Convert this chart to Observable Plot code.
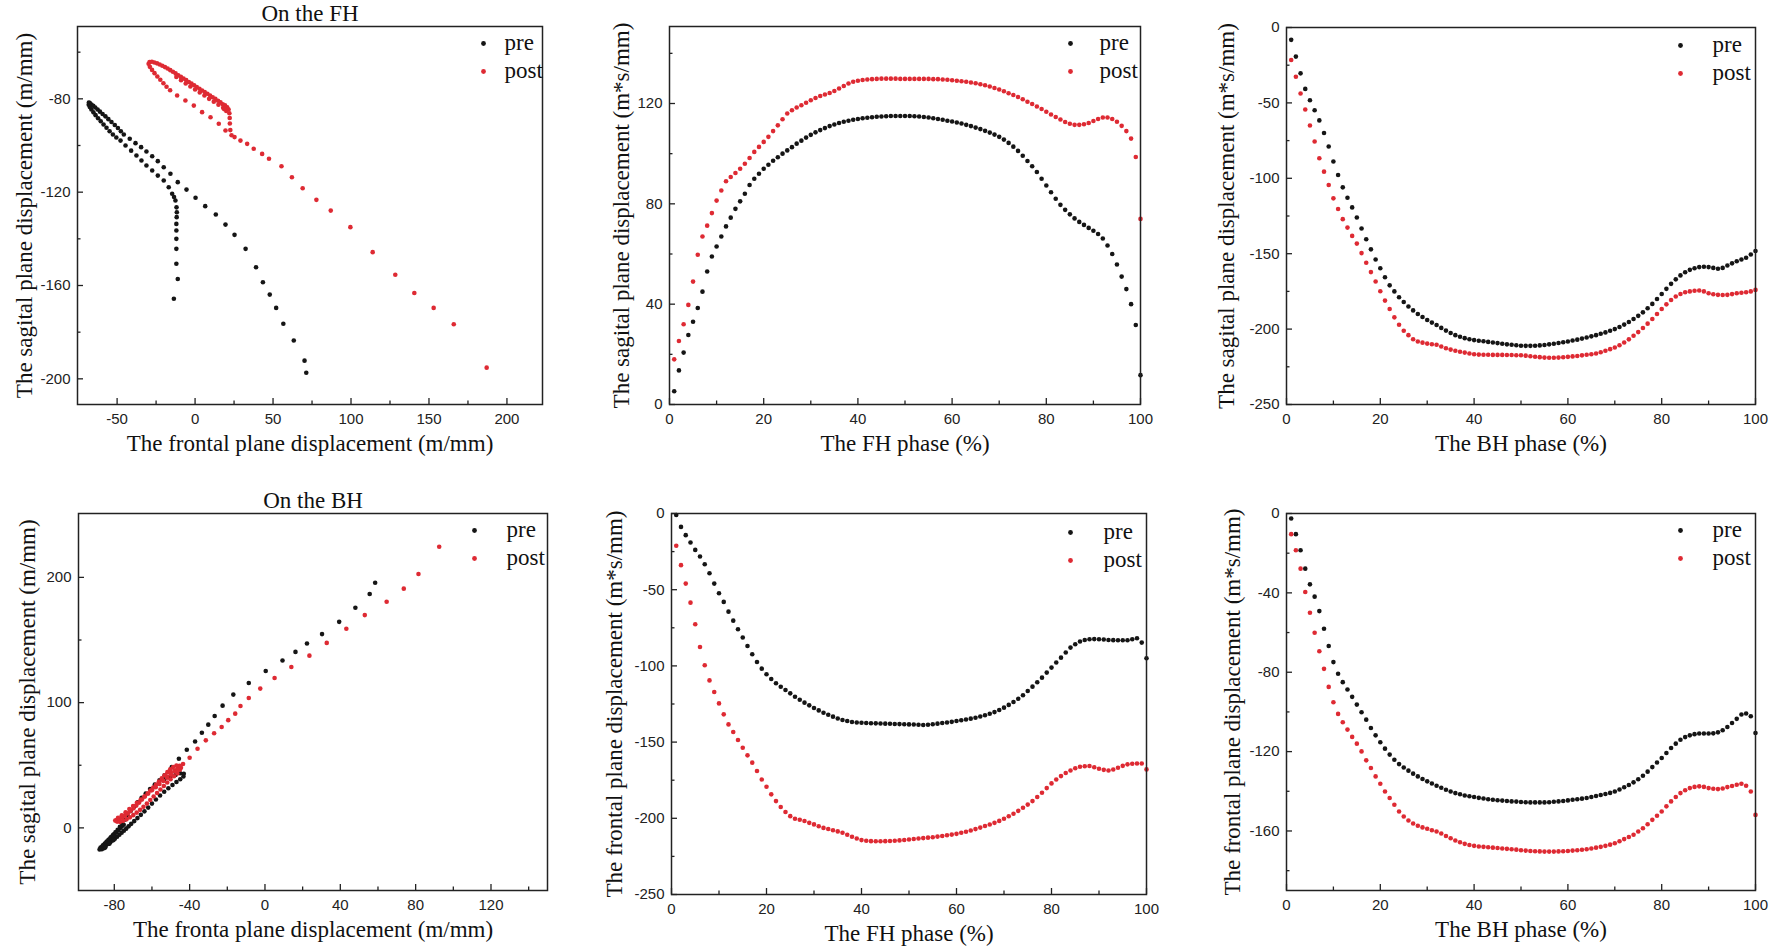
<!DOCTYPE html>
<html>
<head>
<meta charset="utf-8">
<script src="https://cdn.jsdelivr.net/npm/d3@7"></script>
<script src="https://cdn.jsdelivr.net/npm/@observablehq/plot@0.6"></script>
<style>
  body { margin: 0; background: #fff; width: 1772px; height: 952px; position: relative; overflow: hidden; }
  .panel { position: absolute; }
</style>
</head>
<body>
<div id="p1" class="panel"></div>
<div id="p2" class="panel"></div>
<div id="p3" class="panel"></div>
<div id="p4" class="panel"></div>
<div id="p5" class="panel"></div>
<div id="p6" class="panel"></div>
<script>
// phase (%) for the four time-normalised panels
const phase = [1,2,3,4,5,6,7,8,9,10,11,12,13,14,15,16,17,18,19,20,21,22,23,24,25,26,27,28,29,30,
  31,32,33,34,35,36,37,38,39,40,41,42,43,44,45,46,47,48,49,50,51,52,53,54,55,56,57,58,59,60,
  61,62,63,64,65,66,67,68,69,70,71,72,73,74,75,76,77,78,79,80,81,82,83,84,85,86,87,88,89,90,
  91,92,93,94,95,96,97,98,99,100];

// FH phase, sagittal plane
const fhSagPre = [5.3,13.6,20.7,27.7,33,38.5,45,53,59,63,67,71,74.5,78,81,84,87.5,90,92,94,
  95.6,97.2,98.6,100,101.3,102.6,104,105.2,106.4,107.5,108.5,109.4,110.2,111,111.6,112.2,112.7,113.1,113.5,113.8,
  114.1,114.3,114.5,114.7,114.8,114.9,115,115,115,115,115,114.9,114.8,114.6,114.4,114.1,113.8,113.5,113.1,112.8,
  112.4,112,111.5,111,110.4,109.8,109.1,108.4,107.6,106.7,105.6,104.3,102.8,101.1,99.2,97.1,95,92.7,90,87.3,
  84.6,82,79.6,77.6,75.8,74.2,72.8,71.6,70.4,69.3,68,66.2,63.4,60,55.8,51,46,40,31.7,11.7];
const fhSagPost = [18,25.3,32,39.7,49,59.7,67,71.3,76.3,81.3,85.3,89,90.7,92.3,94,96,98.3,100.7,102.7,104.7,
  106.7,109,111.3,113.7,116,117.3,118.4,119.3,120.3,121.3,122.2,123,123.6,124.2,125,126,127,128,128.7,129.1,
  129.4,129.6,129.7,129.8,129.9,129.9,129.9,129.9,129.8,129.8,129.8,129.8,129.8,129.8,129.8,129.7,129.7,129.6,129.5,129.3,
  129.1,128.9,128.7,128.4,128.1,127.7,127.3,126.8,126.2,125.6,124.9,124.1,123.4,122.6,121.7,120.7,119.8,118.8,117.8,116.7,
  115.6,114.6,113.6,112.6,111.9,111.5,111.5,111.7,112.2,113,113.8,114.4,114.4,113.8,112.7,111.1,109,106,98.7,74];

// BH phase, sagittal plane
const bhSagPre = [-8.2,-19.3,-30.4,-40.7,-48.2,-54.9,-61.6,-70,-78.9,-88.9,-97.8,-106,-112.9,-119.3,-126,-133.3,-140.4,-147.1,-153.8,-159.6,
  -165.6,-171,-175,-178.9,-182,-185,-187.6,-190,-192,-194,-195.7,-197.3,-199.2,-201,-202.6,-204,-205.1,-206,-206.7,-207.3,
  -207.7,-208.1,-208.5,-208.9,-209.3,-209.7,-210.1,-210.4,-210.7,-211,-211.1,-211.1,-211,-210.8,-210.5,-210.1,-209.7,-209.2,-208.7,-208.2,
  -207.6,-207,-206.3,-205.6,-204.8,-204,-203.1,-202.2,-201.1,-200,-198.6,-197,-195.3,-193.3,-191.2,-188.9,-186.2,-183.3,-180,-176.7,
  -173.3,-170,-167,-164.4,-162.3,-160.7,-159.6,-158.9,-158.7,-158.9,-159.4,-160,-159.4,-157.8,-156.4,-155,-153.8,-152.7,-150.5,-148.2];
const bhSagPost = [-21.6,-32.7,-43.8,-54.4,-65,-75.6,-86.7,-95.6,-104.4,-113.3,-120.4,-127.1,-132.7,-138.2,-143.3,-149.6,-156,-162.2,-168.4,-174.9,
  -181.1,-186.7,-192.2,-197.1,-201.1,-204,-206.7,-208.2,-209,-209.6,-210,-210.4,-211.5,-212.7,-213.6,-214.4,-215,-215.6,-216.2,-216.7,
  -216.9,-217,-217,-217.1,-217.1,-217.1,-217.2,-217.2,-217.3,-217.3,-217.6,-218,-218.3,-218.6,-218.9,-219,-219,-218.9,-218.7,-218.4,
  -218.1,-217.8,-217.4,-217,-216.7,-216.2,-215.4,-214.4,-213.3,-212.2,-210.7,-208.9,-206.8,-204.4,-202,-199.3,-196.4,-193.3,-190,-186.7,
  -183.6,-180.7,-178.4,-176.7,-175.6,-175,-174.6,-174.4,-175,-176.2,-176.9,-177.3,-177.4,-177.3,-176.8,-176.2,-175.9,-175.6,-175,-174];

// FH phase, frontal plane
const fhFroPre = [-1,-8.8,-14.2,-19,-23.9,-28.2,-33.3,-39.2,-46,-52.3,-58,-64.4,-70.3,-76,-81.4,-86.9,-92.4,-97.4,-101.8,-105.5,
  -108.6,-111.4,-113.7,-115.8,-118,-120.2,-122.2,-124.1,-125.9,-127.6,-129.2,-130.7,-132.1,-133.3,-134.5,-135.5,-136.2,-136.8,-137.1,-137.3,
  -137.5,-137.6,-137.7,-137.8,-137.9,-138,-138.1,-138.2,-138.3,-138.4,-138.5,-138.6,-138.8,-138.6,-138.3,-137.9,-137.5,-137.1,-136.7,-136.2,
  -135.7,-135.2,-134.6,-134,-133.2,-132.4,-131.4,-130.3,-128.9,-127.4,-125.6,-123.7,-121.6,-119.3,-116.5,-113.6,-110.7,-107.7,-104.4,-101.1,
  -97.8,-94.6,-91.2,-88,-85.8,-84,-83,-82.5,-82.4,-82.5,-82.7,-83,-83.1,-83.2,-83.2,-83.2,-82.5,-81.9,-84.7,-95];
const fhFroPost = [-21.2,-33.9,-46,-58.5,-72.7,-87.6,-99.6,-109.5,-117.1,-124.6,-131.8,-138.4,-143.4,-148.6,-153.7,-158.7,-163.5,-169,-174.5,-179.3,
  -184.3,-188.7,-192.6,-195.9,-198.6,-200.3,-201,-201.8,-203,-204,-205.2,-206.3,-207,-207.8,-208.6,-209.5,-210.8,-212.1,-213.3,-214.3,
  -214.7,-215,-215.1,-215.1,-215,-214.9,-214.7,-214.5,-214.2,-213.9,-213.6,-213.3,-213,-212.7,-212.4,-212,-211.6,-211.1,-210.7,-210.2,
  -209.5,-208.8,-208,-207.1,-206.1,-205.1,-204.1,-203,-201.7,-200.3,-198.7,-197,-195.1,-193.1,-191,-188.7,-186,-183.2,-180.2,-177.1,
  -174.5,-172.3,-170.3,-168.6,-167.2,-166.2,-165.8,-165.7,-166.5,-167.5,-168.2,-168.6,-168,-166.8,-165.6,-164.6,-164.2,-164,-164,-167.9];

// BH phase, frontal plane
const bhFroPre = [-2.5,-10.4,-18.5,-27.8,-35.7,-41.9,-49.2,-58.1,-66.8,-74.9,-80.8,-85,-88.7,-92.4,-96.3,-100.2,-103.9,-108.1,-111.8,-115.3,
  -118.5,-121.5,-124.1,-126.3,-128,-129.6,-131.1,-132.5,-133.8,-135,-136.1,-137.2,-138.2,-139.2,-140.1,-140.9,-141.5,-142.1,-142.5,-142.9,
  -143.3,-143.6,-144,-144.3,-144.5,-144.7,-144.9,-145.1,-145.2,-145.4,-145.5,-145.6,-145.6,-145.6,-145.6,-145.5,-145.3,-145.1,-144.9,-144.6,
  -144.3,-144,-143.7,-143.4,-142.9,-142.4,-141.9,-141.4,-140.8,-140.1,-139.1,-138,-136.8,-135.5,-133.9,-132.2,-130.1,-127.8,-125.5,-123.2,
  -120.7,-118.2,-116,-114,-112.7,-111.8,-111.2,-110.9,-110.9,-110.9,-110.8,-110.3,-109.2,-107.6,-105.6,-103.5,-101.3,-100.8,-102.2,-110.6];
const bhFroPost = [-10.4,-18.5,-27.8,-39.6,-50,-60.1,-69.4,-78.3,-87.4,-95.1,-101,-105.2,-108.9,-112.6,-116,-119.9,-124.4,-128.3,-132.5,-136.2,
  -140.1,-143.4,-146.8,-150.2,-152.7,-154.7,-156.2,-157.4,-158.2,-158.9,-159.6,-160.3,-161.3,-162.5,-163.7,-164.8,-165.7,-166.5,-167.1,-167.5,
  -167.8,-168,-168.2,-168.4,-168.6,-168.8,-169,-169.2,-169.4,-169.7,-169.9,-170.1,-170.2,-170.3,-170.4,-170.4,-170.4,-170.3,-170.2,-170.1,
  -169.9,-169.7,-169.5,-169.2,-168.8,-168.4,-168,-167.5,-166.9,-166.2,-165.2,-164.1,-163,-161.9,-160.3,-158.6,-156.6,-154.4,-152.3,-150.2,
  -147.6,-145.1,-142.9,-140.9,-139.5,-138.4,-137.8,-137.5,-137.8,-138.4,-138.7,-138.9,-138.6,-137.9,-137.3,-136.7,-136.2,-137.2,-140.1,-151.9];

// On the FH: frontal (x) vs sagittal (y) displacement
const fhPreX = [-13.6,-11.1,-12,-12,-12,-12,-12,-11.8,-11.7,-11.9,-12.6,-13.5,-14.7,-16.9,-20.1,-23.9,-27.5,-31.2,-34.4,-37.6,
  -41,-44.6,-47.8,-50.5,-52.7,-54.8,-56.8,-58.7,-60.5,-62.2,-63.8,-65.2,-66.5,-67.5,-68.2,-68.1,-67.5,-66.5,-65.3,-64,
  -62.5,-61,-59.3,-57.5,-55.6,-53.6,-51.5,-49.5,-47.6,-45.7,-41.9,-38.2,-34.6,-31.2,-27.5,-23.9,-20.1,-15.8,-11.1,-5.5,
  0.3,6.5,13.3,19.5,25.3,32.4,39.1,43.5,47.9,52,56.6,63.3,70.2,71.3];
const fhPreY = [-165.7,-157.2,-150.7,-144.3,-140,-136.4,-133.6,-130.7,-128.6,-126.5,-123.6,-122.1,-120.7,-117.9,-115,-112.9,-110.7,-108.6,-106.4,-104.3,
  -102.2,-100,-97.9,-96.6,-95.3,-93.9,-92.4,-91,-89.6,-88.3,-87,-85.8,-84.6,-83.5,-82.5,-81.6,-81.8,-82.4,-83,-83.7,
  -84.6,-85.5,-86.5,-87.5,-88.7,-89.9,-91.2,-92.5,-93.9,-95.3,-97.1,-99,-100.7,-102.6,-104.6,-106.7,-109.3,-112.1,-115.7,-118.9,
  -122.4,-126,-129.6,-133.9,-138.3,-144.3,-152.2,-158.6,-163.9,-169.6,-176.4,-183.6,-192.2,-197.4];
const fhPostX = [187,165.9,153,140.6,128.4,113.9,99.6,87,77.8,69,62.1,55.4,47.4,43,37.6,33.4,29.1,25.3,23.4,22.6,
  22.3,22.2,22,21.5,20.6,19.2,17.8,16.3,14.7,13,11.3,9.6,7.9,6.2,4.5,2.8,1.1,-0.6,-2.3,-4,
  -5.7,-7.4,-9.1,-10.8,-12.5,-14.2,-15.9,-17.6,-19.3,-21,-22.7,-24.4,-26.1,-27.7,-29.2,-29.8,-29,-27.6,-26,-24.2,
  -22.3,-20.3,-18.3,-16,-11.5,-6.2,-0.8,4.5,9.9,15.2,19.5,18,15,12,9,6,3,0,-3,-6,-9,-12,20,18.6];
const fhPostY = [-195.2,-176.6,-169.6,-163.2,-155.4,-145.7,-135,-127.9,-123.3,-118.3,-113.6,-108.9,-105.7,-103.6,-101.4,-99.3,-97.9,-96.4,-95.6,-93.4,
  -90.6,-88.2,-86.2,-84.6,-83.6,-82.8,-82.3,-81.5,-80.8,-80,-79.3,-78.6,-77.8,-77.1,-76.4,-75.7,-75,-74.2,-73.5,-72.8,
  -72,-71.3,-70.6,-69.9,-69.1,-68.4,-67.7,-67,-66.4,-65.8,-65.3,-64.8,-64.4,-64.1,-64.2,-65,-66.3,-67.6,-69,-70.4,
  -71.8,-73.3,-74.8,-76.3,-78.6,-80.7,-82.9,-85.7,-87.9,-90.7,-93.6,-83.8,-82.5,-81.2,-80,-78.6,-77.3,-76,-74.7,-73.4,-72,-70.6,-85.2,-84.4];

// On the BH: frontal (x) vs sagittal (y) displacement
const bhPreX = [58.5,55.6,48,39.4,30.3,22.3,16.2,9.3,0.4,-8.6,-16.8,-22.5,-26.7,-30.1,-33.5,-37.1,-41.5,-45.7,-49.5,-53.3,
  -56,-58.5,-61,-63.3,-65.5,-67.6,-69.5,-71.3,-73,-74.5,-75.8,-77,-78.2,-79.4,-80.6,-81.8,-83,-84.2,-85.3,-86.4,
  -87.3,-86.8,-85.7,-84.5,-83.3,-82.1,-80.9,-79.7,-78.5,-77.3,-76.1,-74.9,-73.7,-72.4,-71,-69.4,-67.7,-65.9,-64,-62,
  -60,-57.9,-55.7,-53.5,-51.3,-49.1,-47,-45,-43.3,-43.1,-45,-47.5,-50.5,-53.5,
  -86,-85,-84,-83,-82,-81,-80,-79,-78,-77,-76,-75,-86.6,-85.5,-87.8,-84.8,-82.6,-80.4];
const bhPreY = [195.7,186.7,175.7,164.5,154.7,147.2,140.5,133.6,125.3,115.7,106.4,97.6,89.3,82.4,76,69,62.4,55.2,48.5,41.9,
  38,34.5,31,27.5,24,20.5,17,13.5,10,6.5,3.5,0.8,-1.5,-3.6,-5.6,-7.6,-9.6,-11.5,-13.3,-14.9,
  -15.8,-16.2,-15.4,-14.2,-12.9,-11.5,-10.1,-8.6,-7.1,-5.5,-3.9,-2.3,-0.6,1.2,3.2,5.4,7.8,10.4,13.2,16.2,
  19.4,22.6,25.8,28.8,31.6,34.2,36.6,38.8,41,43.2,43.6,42.2,40.4,38.6,
  -14,-12.5,-11,-9.5,-8,-6.5,-5,-3.5,-2,-0.5,1,2.5,-17,-16.3,-17.2,-15.6,-12.6,-9.6];
const bhPostX = [92.5,81.5,73.7,64.6,53,43.2,32.8,23.6,14,5.1,-2.5,-8.6,-13,-15.8,-19.5,-23,-27,-31.4,-35.8,-40,
  -43.5,-45.5,-46.5,-45.2,-44.6,-45.3,-47,-48.7,-50.3,-51.8,-53.3,-54.8,-56.3,-57.8,-59.3,-60.8,-62.3,-63.8,-65.3,-66.8,
  -68.3,-69.8,-71.3,-72.8,-74.3,-75.8,-77.3,-78.8,-79.5,-78.5,-77,-75.3,-73.5,-71.7,-69.9,-68.1,-66.3,-64.5,-62.7,-60.9,
  -59.1,-57.3,-55.5,-53.7,-51.9,-50.1,-48.3,-46.5,-48,-50,-52,
  -78,-76,-74,-72,-70,-68,-66,-64,-62,-60,-58,-56,-54,-52,-50,-48,-46.5];
const bhPostY = [224.5,202.7,191,180.5,169.9,159,147.7,137.5,128.5,119.7,111.2,103.7,97.3,91.2,86,80.5,75.5,69.9,63.2,56,
  51,48.5,47,46.5,48,49.6,49.8,48.6,46.8,44.5,42,39.5,37,34.6,32.2,29.8,27.4,25,22.6,20.2,
  17.8,15.6,13.6,11.6,9.8,8.2,7,6.2,5.8,5,4.8,5.6,6.8,8.4,10.2,12.2,14.4,16.8,19.4,22.2,
  25,27.8,30.6,33.4,36.2,38.8,41.2,43.4,45.5,44,41,
  8,10,12.5,15,17.5,20,22.5,25,27.5,30,32.5,35,37.5,40,42.5,45,46.5];

const preColor = "#151515";
const postColor = "#de2a33";
const serif = "Liberation Serif, Times New Roman, serif";
const sans = "Liberation Sans, Arial, sans-serif";

const pairs = (xs, ys) => xs.map((x, i) => ({x, y: ys[i]}));

const mL = 80, mR = 15, mT = 30, mB = 56;

function panel({id, frame, xDomain, yDomain, xTicks, xMinor, yTicks, yMinor, pre, post,
                xLabel, yLabel, yLabelDx, title, leg}) {
  const w = frame.r - frame.l + mL + mR;
  const h = frame.b - frame.t + mT + mB;
  const el = document.getElementById(id);
  el.style.left = (frame.l - mL) + "px";
  el.style.top = (frame.t - mT) + "px";
  const fmt = d => String(d);
  const blank = () => "";
  const label = {fontFamily: serif, fontSize: 23, fill: "#111", text: d => d};
  const tick = {label: null, stroke: "#222", strokeWidth: 1.3};
  const chart = Plot.plot({
    width: w, height: h,
    marginLeft: mL, marginRight: mR, marginTop: mT, marginBottom: mB,
    x: {domain: xDomain},
    y: {domain: yDomain},
    style: {fontFamily: sans, fontSize: "15px", color: "#222", background: "transparent", overflow: "visible"},
    marks: [
      Plot.axisX(xTicks, {...tick, tickSize: -6, tickPadding: 15, tickFormat: fmt}),
      Plot.axisX(xMinor, {...tick, tickSize: -3.5, tickFormat: blank}),
      Plot.axisY(yTicks, {...tick, tickSize: -6, tickPadding: 13, tickFormat: fmt}),
      Plot.axisY(yMinor, {...tick, tickSize: -3.5, tickFormat: blank}),
      Plot.dot(pre, {x: "x", y: "y", r: 2.3, fill: preColor, stroke: null}),
      Plot.dot(post, {x: "x", y: "y", r: 2.3, fill: postColor, stroke: null}),
      Plot.frame({stroke: "#222", strokeWidth: 1.5}),
      // legend
      Plot.dot(["pre"], {frameAnchor: "top-right", dx: leg.dot, dy: leg.dy, r: 2.4, fill: preColor}),
      Plot.dot(["post"], {frameAnchor: "top-right", dx: leg.dot, dy: leg.dy + 28, r: 2.4, fill: postColor}),
      Plot.text(["pre"], {...label, frameAnchor: "top-right", textAnchor: "start", lineAnchor: "middle",
        dx: leg.text, dy: leg.dy - 1}),
      Plot.text(["post"], {...label, frameAnchor: "top-right", textAnchor: "start", lineAnchor: "middle",
        dx: leg.text, dy: leg.dy + 27}),
      // axis titles
      Plot.text([xLabel], {...label, frameAnchor: "bottom", textAnchor: "middle", lineAnchor: "middle", dy: 39}),
      Plot.text([yLabel], {...label, frameAnchor: "left", textAnchor: "middle", lineAnchor: "middle",
        rotate: -90, dx: yLabelDx}),
      title ? Plot.text([title], {...label, frameAnchor: "top", textAnchor: "middle", lineAnchor: "middle", dy: -13}) : null
    ]
  });
  el.replaceChildren(chart);
}

const phaseTicks = [0, 20, 40, 60, 80, 100];
const phaseMinor = [10, 30, 50, 70, 90];

panel({
  id: "p1", frame: {l: 77, r: 542, t: 26, b: 404},
  xDomain: [-75.4, 222.8], yDomain: [-211, -49],
  xTicks: [-50, 0, 50, 100, 150, 200], xMinor: [-25, 25, 75, 125, 175],
  yTicks: [-200, -160, -120, -80], yMinor: [-180, -140, -100, -60],
  pre: pairs(fhPreX, fhPreY), post: pairs(fhPostX, fhPostY),
  xLabel: "The frontal plane displacement (m/mm)",
  yLabel: "The sagital plane displacement (m/mm)", yLabelDx: -53,
  title: "On the FH", leg: {dot: -59, text: -38, dy: 17}
});

panel({
  id: "p2", frame: {l: 669, r: 1140, t: 26, b: 404},
  xDomain: [0, 100], yDomain: [0, 150.7],
  xTicks: phaseTicks, xMinor: phaseMinor,
  yTicks: [0, 40, 80, 120], yMinor: [20, 60, 100, 140],
  pre: pairs(phase, fhSagPre), post: pairs(phase, fhSagPost),
  xLabel: "The FH phase (%)",
  yLabel: "The sagital plane displacement (m*s/mm)", yLabelDx: -48,
  leg: {dot: -70, text: -41, dy: 17}
});

panel({
  id: "p3", frame: {l: 1286, r: 1755, t: 27, b: 404},
  xDomain: [0, 100], yDomain: [-250, 0],
  xTicks: phaseTicks, xMinor: phaseMinor,
  yTicks: [-250, -200, -150, -100, -50, 0], yMinor: [-225, -175, -125, -75, -25],
  pre: pairs(phase, bhSagPre), post: pairs(phase, bhSagPost),
  xLabel: "The BH phase (%)",
  yLabel: "The sagital plane displacement (m*s/mm)", yLabelDx: -60,
  leg: {dot: -75, text: -43, dy: 18}
});

panel({
  id: "p4", frame: {l: 78, r: 547, t: 513, b: 890},
  xDomain: [-99, 150], yDomain: [-50, 251],
  xTicks: [-80, -40, 0, 40, 80, 120], xMinor: [-60, -20, 20, 60, 100, 140],
  yTicks: [0, 100, 200], yMinor: [50, 150],
  pre: pairs(bhPreX, bhPreY), post: pairs(bhPostX, bhPostY),
  xLabel: "The fronta plane displacement (m/mm)",
  yLabel: "The sagital plane displacement (m/mm)", yLabelDx: -51,
  title: "On the BH", leg: {dot: -73, text: -41, dy: 17}
});

panel({
  id: "p5", frame: {l: 671, r: 1146, t: 513, b: 894},
  xDomain: [0, 100], yDomain: [-250, 0],
  xTicks: phaseTicks, xMinor: phaseMinor,
  yTicks: [-250, -200, -150, -100, -50, 0], yMinor: [-225, -175, -125, -75, -25],
  pre: pairs(phase, fhFroPre), post: pairs(phase, fhFroPost),
  xLabel: "The FH phase (%)",
  yLabel: "The frontal plane displacement (m*s/mm)", yLabelDx: -57,
  leg: {dot: -76, text: -43, dy: 19}
});

panel({
  id: "p6", frame: {l: 1286, r: 1755, t: 513, b: 890},
  xDomain: [0, 100], yDomain: [-190, 0],
  xTicks: phaseTicks, xMinor: phaseMinor,
  yTicks: [-160, -120, -80, -40, 0], yMinor: [-180, -140, -100, -60, -20],
  pre: pairs(phase, bhFroPre), post: pairs(phase, bhFroPost),
  xLabel: "The BH phase (%)",
  yLabel: "The frontal plane displacement (m*s/mm)", yLabelDx: -54,
  leg: {dot: -75, text: -43, dy: 17}
});
</script>
</body>
</html>
